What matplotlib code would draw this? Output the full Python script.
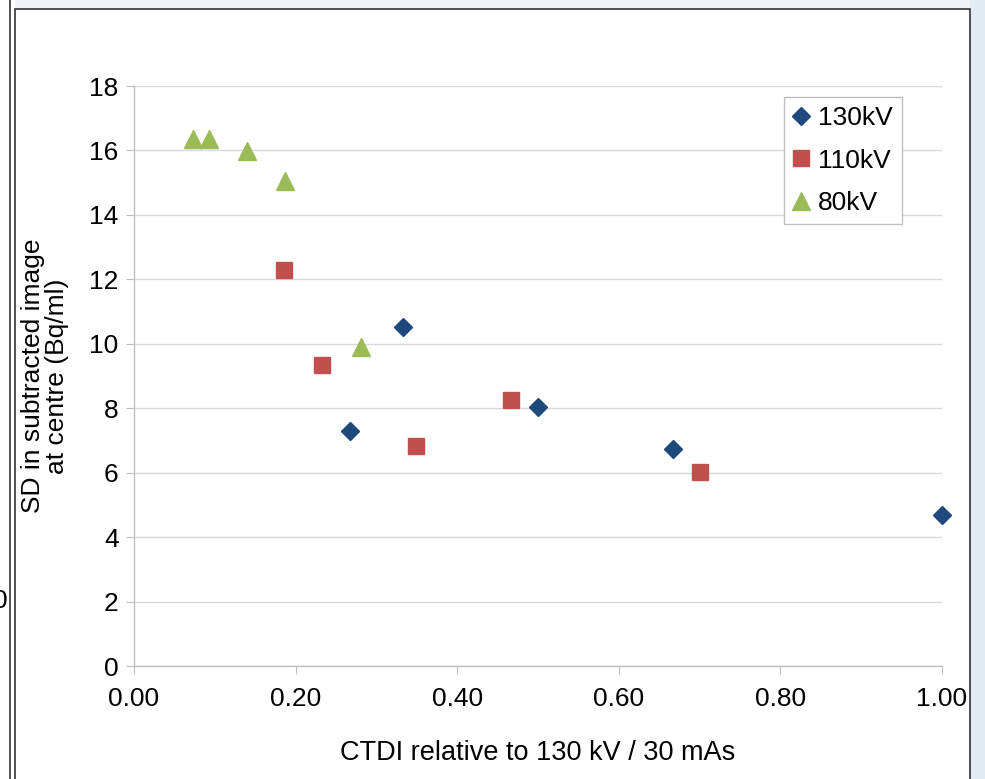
import matplotlib.pyplot as plt
from matplotlib.patches import Rectangle
from matplotlib.lines import Line2D

plt.rcParams['font.family'] = ['Liberation Sans', 'DejaVu Sans']

# CTDI relative to 130 kV / 30 mAs  vs  SD at centre (Bq/ml)
ctdi_130 = [0.267, 0.333, 0.500, 0.667, 1.000]
sd_130 = [7.30, 10.52, 8.05, 6.73, 4.70]

ctdi_110 = [0.186, 0.233, 0.349, 0.466, 0.700]
sd_110 = [12.30, 9.35, 6.84, 8.27, 6.03]

ctdi_80 = [0.073, 0.093, 0.140, 0.187, 0.281]
sd_80 = [16.37, 16.37, 15.99, 15.06, 9.90]

series_names = ['130kV', '110kV', '80kV']

W, H = 985, 779
fig = plt.figure(figsize=(W / 100, H / 100), dpi=100)
fig.patch.set_facecolor('#EEF2F7')


def fx(x):
    return x / W


def fy(y):
    return 1 - y / H


# panel backgrounds around the chart (kept below the axes)
fig.add_artist(Rectangle((fx(970), 0), fx(W - 970), 1, transform=fig.transFigure,
                         facecolor='#E2EAF3', edgecolor='none', zorder=-3))
fig.add_artist(Rectangle((0, 0), fx(15), 1, transform=fig.transFigure,
                         facecolor='white', edgecolor='none', zorder=-3))
fig.add_artist(Line2D([fx(10), fx(10)], [0, 1], transform=fig.transFigure,
                      color='#333333', lw=1.2, zorder=-2))
fig.add_artist(Rectangle((fx(15), fy(H + 5)), fx(970 - 15), (H + 5 - 9) / H,
                         transform=fig.transFigure, facecolor='white',
                         edgecolor='#333333', lw=1.2, zorder=-2))
fig.text(fx(8), fy(601), '0', ha='right', va='center', fontsize=19, zorder=2)

ax = fig.add_axes([fx(134), fy(666), fx(808), (666 - 86) / H])
ax.set_facecolor('none')

ax.plot(ctdi_130, sd_130, linestyle='none', marker='D', ms=9,
        color='#1F497D', label=series_names[0], clip_on=False, zorder=3)
ax.plot(ctdi_110, sd_110, linestyle='none', marker='s', ms=11,
        color='#C0504D', label=series_names[1], clip_on=False, zorder=3)
ax.plot(ctdi_80, sd_80, linestyle='none', marker='^', ms=12.5,
        color='#9BBB59', label=series_names[2], clip_on=False, zorder=3)

ax.set_xlim(0, 1.0)
ax.set_ylim(0, 18)
ax.set_xticks([0, 0.2, 0.4, 0.6, 0.8, 1.0])
ax.set_xticklabels(['%.2f' % v for v in [0, 0.2, 0.4, 0.6, 0.8, 1.0]])
ax.set_yticks(range(0, 19, 2))

ax.grid(axis='y', color='#D9D9D9', lw=1)
ax.set_axisbelow(True)
for s in ['top', 'right']:
    ax.spines[s].set_visible(False)
for s in ['left', 'bottom']:
    ax.spines[s].set_color('#BFBFBF')
    ax.spines[s].set_linewidth(1)
ax.tick_params(axis='both', direction='out', length=6, color='#BFBFBF',
               labelsize=19, labelcolor='black')
ax.tick_params(axis='y', pad=5)
ax.tick_params(axis='x', pad=9)

ax.set_xlabel('CTDI relative to 130 kV / 30 mAs', fontsize=19.5, labelpad=21)
fig.text(fx(45), fy(376), 'SD in subtracted image\nat centre (Bq/ml)',
         rotation=90, ha='center', va='center', fontsize=19,
         linespacing=0.95, multialignment='center')

leg = ax.legend(loc='upper right', bbox_to_anchor=(fx(902), fy(97)),
                bbox_transform=fig.transFigure, fontsize=19, frameon=True,
                fancybox=False, edgecolor='#BFBFBF', framealpha=1,
                handlelength=0.6, handletextpad=0.35, labelspacing=0.7,
                borderpad=0.35, borderaxespad=0)
leg.get_frame().set_linewidth(1)

fig.savefig('out.png', dpi=100, facecolor=fig.get_facecolor())
